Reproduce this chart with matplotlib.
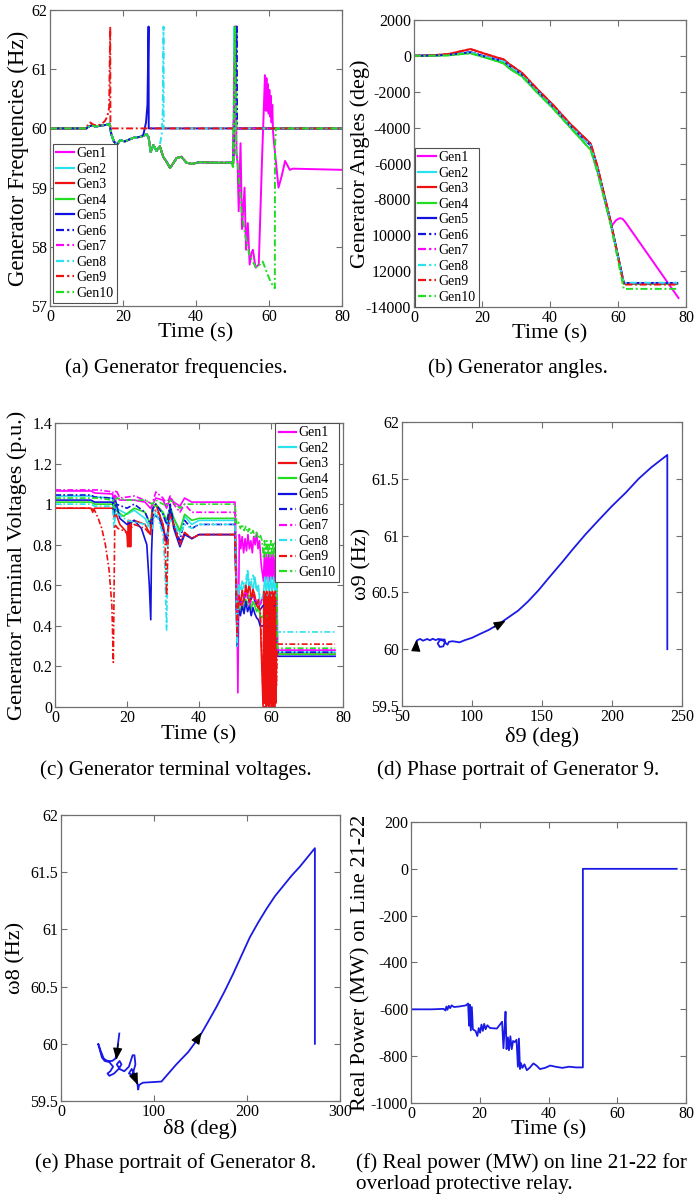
import matplotlib
matplotlib.use('Agg')
import matplotlib.pyplot as plt

plt.rcParams['font.family'] = ['Liberation Serif', 'DejaVu Serif']
plt.rcParams['axes.unicode_minus'] = False
plt.rcParams['lines.dashdot_pattern'] = [3.6, 1.4, 1.0, 1.4]

W, H = 694, 1201
fig = plt.figure(figsize=(W / 100, H / 100), dpi=100)

# ---------------- common generator styling ----------------
gen_names = ['Gen1', 'Gen2', 'Gen3', 'Gen4', 'Gen5', 'Gen6', 'Gen7', 'Gen8', 'Gen9', 'Gen10']
gen_colors = ['#ff00ff', '#2ae2ee', '#ee1111', '#22dd22', '#1212e0',
              '#1212e0', '#ff00ff', '#2ae2ee', '#ee1111', '#22dd22']
gen_styles = ['-', '-', '-', '-', '-', '-.', '-.', '-.', '-.', '-.']

# ---------------- (a) generator frequencies ----------------
freq_pre_t = [0, 10, 10.5, 11.5, 12.5, 14, 15.5, 16.3, 16.8, 17.5,
              18.3, 19.2, 20.5, 22.8, 25, 26.5, 27, 27.6, 28.3, 29.2,
              30.1, 31, 31.9, 32.9, 34.7, 36, 37.4, 39, 41, 45, 49.8]
freq_pre_f = [60, 60, 60.03, 60.05, 60.03, 60.05, 60.06, 60.08, 59.9, 59.78,
              59.72, 59.8, 59.78, 59.84, 59.86, 59.9, 59.85, 59.6, 59.72, 59.62,
              59.7, 59.52, 59.44, 59.33, 59.5, 59.52, 59.42, 59.4, 59.43, 59.42, 59.42]
freq_cut = [49.8, 49.8, 49.8, 49.8, 25, 49.8, 49.8, 29.2, -1, 49.8]
freq_tail_t = [
    [50.2, 50.8, 51.1, 51.4, 51.7, 52.2, 52.6, 53.3, 53.7, 54.2, 54.7, 55.2, 55.6, 56.3,
     57.2, 58.1, 58.9, 59.1, 59.3, 59.5, 59.7, 59.9, 60.1, 60.3, 60.5, 60.7, 60.9, 61.1,
     61.3, 62.6, 63.5, 64.4, 65.7, 66.5, 80],
    [50.2, 50.5, 50.55, 80],
    [50.2, 50.8, 50.85, 80],
    [50.1, 51.0, 51.05, 80],
    [25.6, 26.3, 26.7, 27.0, 27.05, 80],
    [50.2, 51.2, 51.25, 80],
    [50.2, 50.7, 50.75, 80],
    [30.1, 30.6, 30.9, 31.1, 31.15, 80],
    [0, 10, 10.5, 11, 12, 13, 14, 15, 15.7, 16.2, 16.5, 16.55, 80],
    [50.2, 50.7, 51.0, 51.6, 52.5, 53.5, 54.5, 55.5, 56.5, 57.5, 58.3, 59.5, 60.5, 61.6,
     61.65, 61.9, 80],
]
freq_tail_f = [
    [59.4, 61.72, 59.6, 59.4, 58.6, 59.75, 58.3, 59.0, 57.95, 58.4, 57.7, 57.9, 57.95, 57.65,
     57.7, 59.5, 60.9, 60.3, 60.85, 60.3, 60.75, 60.25, 60.65, 60.2, 60.55, 60.1, 60.4, 59.95,
     59.8, 59.0, 59.2, 59.45, 59.3, 59.32, 59.3],
    [59.45, 61.72, 60.0, 60.0],
    [59.4, 61.72, 60.0, 60.0],
    [59.35, 61.72, 60.0, 60.0],
    [59.9, 60.1, 60.4, 61.72, 60.0, 60.0],
    [59.42, 61.72, 60.0, 60.0],
    [59.45, 61.72, 60.0, 60.0],
    [59.72, 59.9, 60.3, 61.72, 60.0, 60.0],
    [60, 60, 60.08, 60.1, 60.06, 60.05, 60.07, 60.12, 60.2, 60.35, 61.72, 60.0, 60.0],
    [59.35, 61.72, 59.6, 59.3, 58.6, 58.2, 57.9, 57.75, 57.65, 57.7, 57.75, 57.55, 57.4, 57.3,
     59.7, 60.0, 60.0],
]

# ---------------- (b) generator angles ----------------
ang_pre_t = [0, 5, 10, 16.6, 22, 26.4, 28, 31.8, 36, 41, 46, 52, 54, 57.8]
ang_mid = [0, 20, 60, 200, -100, -300, -550, -1050, -1900, -2850, -3900, -5000, -6300, -9250]
ang_red = [0, 30, 100, 380, 50, -200, -450, -950, -1800, -2750, -3800, -4900, -6200, -9200]
ang_green = [0, 10, 30, 150, -150, -420, -700, -1150, -2000, -2950, -4000, -5250, -6500, -9350]
ang_base = ['mid', 'mid', 'red', 'green', 'mid', 'mid', 'mid', 'mid', 'red', 'green']
ang_tail_t = [[58.3, 59.5, 60.5, 61.3, 62.1, 77.8]] + [[61.7, 77.4]] * 9
ang_tail_v = [[-9430, -9150, -9050, -9080, -9250, -13500],
              [-12660, -12660], [-12700, -12700], [-12720, -12720], [-12660, -12660],
              [-12680, -12680], [-12670, -12670], [-12650, -12650], [-12750, -12750],
              [-12990, -12990]]
ang_ticks = [-14000, -12000, -10000, -8000, -6000, -4000, -2000, 0, 2000]
ang_tick_labels = ['-14000', '12000', '10000', '-8000', '-6000', '-4000', '-2000', '0', '2000']

# ---------------- (c) generator terminal voltages ----------------
volt_t = [
    [0, 10, 11, 16, 16.4, 16.8, 18, 20, 22, 25, 26.5, 27.2, 28, 30, 31, 32, 33, 34.7, 36, 38,
     40, 50, 50.5, 50.8, 51.2, 51.6, 52, 52.4, 52.8, 53.2, 53.6, 54, 54.4, 54.8, 55.2, 55.6,
     56, 56.4, 56.8, 57.3, 57.9, 58.2, 58.5, 58.8, 59.1, 59.4, 59.7, 60, 60.3, 60.6, 60.9,
     61.2, 61.5, 61.7, 61.75, 77.8],
    [0, 10, 11, 16, 16.5, 17, 20, 22, 25, 26.5, 27.2, 28, 30, 31, 32, 33, 34.7, 36, 38, 40,
     50, 50.6, 51, 51.5, 52, 52.5, 53, 53.5, 54, 54.5, 55, 55.5, 56, 56.5, 57, 57.9, 58.3,
     58.7, 59.1, 59.5, 59.9, 60.3, 60.7, 61.1, 61.5, 61.7, 61.75, 77.8],
    [0, 10, 10.5, 11, 16, 16.5, 17, 18, 19.5, 20, 20.2, 20.4, 20.6, 20.8, 21, 21.2, 22, 25,
     26.5, 27, 28, 29, 30, 31, 32, 33, 34.7, 36, 38, 40, 50, 50.6, 51, 51.5, 52, 52.5, 53,
     53.5, 54, 54.5, 55, 55.5, 56, 56.5, 57, 57.8, 58.0, 58.2, 58.4, 58.6, 58.8, 59.0, 59.2,
     59.4, 59.6, 59.8, 60.0, 60.2, 60.4, 60.6, 60.8, 61.0, 61.2, 61.4, 61.6, 61.75, 77.8],
    [0, 10, 11, 16, 16.5, 17, 19, 22, 25, 26.5, 27.2, 28, 30, 31, 32, 33, 34.7, 36, 38, 40,
     50, 50.6, 51, 51.5, 52, 52.5, 53, 53.5, 54, 54.5, 55, 55.5, 56, 56.5, 57, 57.5, 57.8,
     61.7, 61.75, 77.8],
    [0, 10, 11, 16, 16.4, 16.8, 18, 20, 22, 24, 25.5, 26.2, 26.6, 26.8, 27.2, 29, 31, 32, 33,
     34.7, 36, 38, 40, 50, 50.6, 51, 51.5, 52, 52.5, 53, 53.5, 54, 54.5, 55, 55.5, 56, 56.5,
     57, 57.8, 61.7, 61.75, 77.8],
    [0, 10, 11, 16, 16.5, 17, 20, 22, 25, 26.5, 27.2, 28, 30, 31, 32, 33, 34.7, 36, 38, 40,
     50, 50.6, 51, 52, 53, 54, 55, 56, 57, 57.8, 61.7, 61.75, 77.8],
    [0, 12, 16, 16.5, 17, 18, 22, 25, 27, 28, 30, 31, 32, 33, 34.7, 36, 38, 40, 50, 50.6,
     51, 52, 53, 54, 55, 56, 57, 57.8, 61.7, 61.75, 77.8],
    [0, 10, 11, 16, 16.4, 16.8, 20, 25, 27, 28, 30, 30.5, 31, 31.4, 32, 33, 34.7, 36, 38, 40,
     50, 50.6, 51, 52, 53, 53.5, 54, 55, 56, 57, 57.8, 61.7, 61.75, 77.8],
    [0, 10, 11, 12, 13, 14, 15, 15.8, 16.2, 16.6, 17.5, 19, 20, 22, 25, 26.5, 27, 28, 29, 30,
     30.6, 31, 31.5, 32, 33, 34.7, 36, 38, 40, 50, 50.6, 51, 52, 53, 54, 55, 56, 57, 57.9,
     58.1, 58.3, 58.5, 58.7, 58.9, 59.1, 59.3, 59.5, 59.7, 59.9, 60.1, 60.3, 60.5, 60.7,
     60.9, 61.1, 61.3, 61.5, 61.75, 77.8],
    [0, 12, 16, 16.5, 17, 20, 25, 27, 28, 30, 31, 32, 34.7, 36, 40, 50, 50.5, 51, 51.5, 52,
     52.5, 53, 53.5, 54, 54.5, 55, 55.5, 56, 56.5, 57, 57.5, 57.9, 58.2, 58.5, 58.8, 59.1,
     59.4, 59.7, 60.0, 60.3, 60.6, 60.9, 61.2, 61.5, 61.7, 61.75, 77.8],
]
volt_v = [
    [1.065, 1.065, 1.055, 1.05, 1.0, 1.04, 1.02, 1.02, 1.02, 1.01, 0.98, 1.0, 1.03, 1.02,
     0.98, 1.03, 1.01, 0.99, 1.03, 1.01, 1.01, 1.01, 0.6, 0.07, 0.85, 0.78, 0.84, 0.76, 0.83,
     0.77, 0.85, 0.78, 0.82, 0.76, 0.84, 0.8, 0.86, 0.78, 0.82, 0.7, 0.62, 0.76, 0.62, 0.75,
     0.63, 0.76, 0.62, 0.75, 0.63, 0.76, 0.62, 0.74, 0.63, 0.7, 0.28, 0.28],
    [1.04, 1.04, 1.035, 1.03, 0.95, 0.98, 0.95, 0.97, 0.93, 0.88, 0.97, 1.0, 0.95, 0.9,
     0.98, 0.93, 0.86, 0.94, 0.9, 0.92, 0.92, 0.3, 0.6, 0.58, 0.62, 0.6, 0.58, 0.66, 0.6,
     0.62, 0.57, 0.64, 0.58, 0.6, 0.5, 0.56, 0.64, 0.56, 0.64, 0.56, 0.64, 0.56, 0.64, 0.56,
     0.64, 0.58, 0.27, 0.27],
    [0.98, 0.98, 0.96, 0.98, 0.98, 0.93, 0.95, 0.9, 0.87, 0.85, 0.79, 0.92, 0.79, 0.92,
     0.79, 0.91, 0.92, 0.9, 0.85, 0.98, 1.0, 0.95, 0.9, 0.8, 0.97, 0.9, 0.8, 0.86, 0.83,
     0.85, 0.85, 0.35, 0.55, 0.5, 0.58, 0.52, 0.6, 0.55, 0.61, 0.53, 0.58, 0.55, 0.5, 0.53,
     0.45, 0.0, 0.57, 0.02, 0.56, 0.0, 0.57, 0.01, 0.55, 0.0, 0.57, 0.02, 0.56, 0.0, 0.57,
     0.01, 0.56, 0.0, 0.57, 0.02, 0.55, 0.26, 0.26],
    [1.01, 1.01, 1.0, 1.0, 0.96, 0.97, 0.94, 0.98, 0.96, 0.9, 0.98, 1.0, 0.96, 0.92, 0.99,
     0.93, 0.87, 0.95, 0.92, 0.93, 0.93, 0.4, 0.5, 0.47, 0.52, 0.48, 0.53, 0.5, 0.55, 0.48,
     0.52, 0.5, 0.47, 0.49, 0.45, 0.44, 0.45, 0.45, 0.26, 0.26],
    [1.02, 1.02, 1.01, 1.01, 0.95, 1.02, 0.93, 0.9, 0.92, 0.88, 0.8, 0.6, 0.43, 0.75, 0.95,
     0.93, 0.82, 0.98, 0.88, 0.79, 0.85, 0.83, 0.85, 0.85, 0.3, 0.48, 0.45, 0.5, 0.46, 0.52,
     0.47, 0.5, 0.45, 0.49, 0.46, 0.44, 0.43, 0.4, 0.4, 0.4, 0.25, 0.25],
    [1.045, 1.045, 1.035, 1.03, 0.97, 1.0, 0.98, 1.0, 0.96, 0.9, 0.98, 1.0, 0.95, 0.9, 1.0,
     0.9, 0.82, 0.92, 0.88, 0.9, 0.9, 0.3, 0.55, 0.5, 0.56, 0.52, 0.55, 0.5, 0.48, 0.5, 0.5,
     0.27, 0.27],
    [1.07, 1.07, 1.06, 1.03, 1.07, 1.03, 1.04, 1.02, 1.0, 1.06, 1.03, 1.0, 1.04, 1.0, 0.96,
     1.0, 0.96, 0.96, 0.96, 0.35, 0.55, 0.5, 0.58, 0.5, 0.55, 0.52, 0.5, 0.55, 0.55, 0.28,
     0.28],
    [1.0, 1.0, 0.99, 0.99, 0.88, 0.96, 0.92, 0.9, 0.88, 0.97, 0.85, 0.7, 0.38, 0.88, 0.92,
     0.9, 0.85, 0.9, 0.88, 0.9, 0.9, 0.3, 0.6, 0.58, 0.62, 0.68, 0.6, 0.65, 0.58, 0.55,
     0.55, 0.55, 0.37, 0.37],
    [0.98, 0.98, 0.97, 0.93, 0.88, 0.8, 0.68, 0.5, 0.22, 0.9, 0.88, 0.87, 0.86, 0.9, 0.88,
     0.85, 0.96, 0.97, 0.95, 0.9, 0.8, 0.55, 0.88, 0.95, 0.9, 0.8, 0.86, 0.83, 0.85, 0.85,
     0.35, 0.55, 0.5, 0.58, 0.52, 0.56, 0.5, 0.48, 0.02, 0.55, 0.0, 0.56, 0.03, 0.54, 0.0,
     0.55, 0.02, 0.56, 0.0, 0.54, 0.03, 0.55, 0.0, 0.56, 0.02, 0.54, 0.1, 0.31, 0.31],
    [1.03, 1.03, 1.02, 0.98, 1.03, 1.02, 1.02, 1.0, 1.02, 1.0, 0.99, 1.02, 0.98, 1.0, 1.0,
     1.0, 0.9, 0.91, 0.88, 0.9, 0.87, 0.89, 0.86, 0.88, 0.85, 0.87, 0.84, 0.86, 0.83, 0.85,
     0.82, 0.74, 0.82, 0.74, 0.82, 0.75, 0.81, 0.74, 0.82, 0.75, 0.81, 0.74, 0.82, 0.75,
     0.8, 0.29, 0.29],
]

# ---------------- (d) phase portrait of generator 9 ----------------
delta9 = [59, 60, 61, 63, 65, 68, 70, 72, 74, 76, 79, 80.5, 80.5, 79.5, 77, 75.5, 77, 80,
          81.5, 82.5, 83.5, 86, 89, 91, 95, 100, 105, 112, 119, 126, 133, 140, 147.6, 155,
          164, 172, 181, 190, 200, 210, 219, 228, 239.5, 239.5]
omega9 = [60.0, 60.05, 60.08, 60.09, 60.075, 60.09, 60.078, 60.092, 60.08, 60.09, 60.085,
          60.085, 60.06, 60.025, 60.02, 60.05, 60.08, 60.075, 60.05, 60.04, 60.065, 60.07,
          60.065, 60.06, 60.08, 60.1, 60.13, 60.17, 60.22, 60.28, 60.34, 60.42, 60.52, 60.63,
          60.76, 60.88, 61.01, 61.13, 61.26, 61.38, 61.5, 61.6, 61.71, 60.0]
arrows9_tail = [(59.9, 59.99), (116, 60.195)]
arrows9_head = [(60.4, 60.085), (124, 60.25)]

# ---------------- (e) phase portrait of generator 8 ----------------
delta8 = [62.7, 60.5, 58.5, 55, 50, 46, 43, 40, 41, 44, 47, 52, 56, 53, 50, 52, 57, 62, 65,
          63, 60, 63, 68, 73, 77, 79, 80, 77, 73, 76, 80, 82, 83, 84, 88, 98, 108, 124, 137,
          149.5, 158, 167, 176, 185, 194, 203, 212, 221, 230, 239, 248, 257, 265, 273, 273]
omega8 = [60.09, 59.95, 59.87, 59.85, 59.85, 59.87, 59.93, 60.0, 59.97, 59.88, 59.85, 59.84,
          59.8, 59.76, 59.74, 59.72, 59.74, 59.78, 59.82, 59.85, 59.82, 59.78, 59.76, 59.8,
          59.9, 59.9, 59.82, 59.73, 59.74, 59.78, 59.72, 59.66, 59.6, 59.64, 59.66, 59.665,
          59.67, 59.82, 59.93, 60.07, 60.19, 60.32, 60.46, 60.61, 60.77, 60.93, 61.06, 61.18,
          61.29, 61.38, 61.47, 61.55, 61.63, 61.71, 60.0]
arrows8_tail = [(61.5, 60.0), (77.5, 59.74), (145, 60.02)]
arrows8_head = [(59.5, 59.86), (82.5, 59.64), (151, 60.1)]

# ---------------- (f) real power on line 21-22 ----------------
power_t = [0, 6, 9.5, 10, 10.3, 10.6, 11, 11.4, 11.8, 12.5, 14, 16, 16.6, 16.9, 17.1, 17.4,
           17.7, 18, 18.8, 19.3, 19.7, 20.1, 20.5, 20.9, 21.3, 21.7, 22.2, 23, 25, 26.5,
           26.9, 27.2, 27.5, 27.8, 28.2, 28.5, 28.9, 29.3, 29.7, 30.2, 30.7, 31.1, 31.4, 31.7,
           32, 32.4, 33, 33.7, 34.5, 35.6, 36.5, 37.5, 39, 40.5, 42, 44, 46, 48, 50, 50, 77.3]
power_mw = [-600, -600, -598, -605, -588, -602, -585, -595, -583, -590, -588, -583, -575,
            -670, -580, -690, -590, -685, -693, -714, -680, -700, -665, -692, -662, -685,
            -668, -680, -682, -653, -766, -690, -610, -770, -720, -775, -715, -770, -735,
            -740, -730, -845, -725, -855, -830, -850, -835, -860, -850, -831, -840, -855,
            -850, -840, -845, -850, -845, -848, -848, 0, 0]

# ---------------- layout helpers ----------------
TICK_FS = 11.5
LABEL_FS = 16
CAP_FS = 15.3
SPINE = '#707070'


def add_ax(l, t, r, b):
    ax = fig.add_axes([l / W, 1 - b / H, (r - l) / W, (b - t) / H])
    for s in ax.spines.values():
        s.set_color(SPINE)
        s.set_linewidth(0.9)
    ax.tick_params(direction='in', length=4, width=0.8, color=SPINE, top=True, right=True,
                   labelsize=TICK_FS, pad=2, labelcolor='black')
    ax.box_px = (l, t, r, b)
    return ax


def set_labels(ax, xlab, ylab, x_y_px, y_x_px, yfs=LABEL_FS, xfs=LABEL_FS):
    l, t, r, b = ax.box_px
    ax.set_xlabel(xlab, fontsize=xfs)
    ax.xaxis.label.set_va('center')
    ax.xaxis.set_label_coords(0.5, -(x_y_px - b) / (b - t))
    ax.set_ylabel(ylab, fontsize=yfs)
    ax.yaxis.label.set_va('center')
    ax.yaxis.set_label_coords(-(l - y_x_px) / (r - l), 0.5)


def gen_legend(ax, loc, anchor):
    leg = ax.legend(loc=loc, bbox_to_anchor=anchor, fontsize=10, labelspacing=0.18,
                    handlelength=1.25, handletextpad=0.15, borderpad=0.25, borderaxespad=0,
                    fancybox=False, framealpha=1, edgecolor='#505050')
    leg.get_frame().set_linewidth(0.8)
    for lh in leg.get_lines():
        lh.set_linewidth(1.6)
    return leg


def draw_arrows(ax, tails, heads):
    for (xt, yt), (xh, yh) in zip(tails, heads):
        ax.annotate('', xy=(xh, yh), xytext=(xt, yt),
                    arrowprops=dict(arrowstyle='-|>,head_length=0.55,head_width=0.22',
                                    color='black', lw=0.8, shrinkA=0, shrinkB=0,
                                    mutation_scale=13))


# ---------------- panel (a) ----------------
ax_a = add_ax(50, 10, 342, 306)
for i in range(10):
    ts = [t for t in freq_pre_t if t <= freq_cut[i]] + freq_tail_t[i]
    fs = [f for t, f in zip(freq_pre_t, freq_pre_f) if t <= freq_cut[i]] + freq_tail_f[i]
    ax_a.plot(ts, fs, color=gen_colors[i], ls=gen_styles[i], lw=1.4, label=gen_names[i])
ax_a.set_xlim(0, 80)
ax_a.set_ylim(57, 62)
ax_a.set_xticks([0, 20, 40, 60, 80])
ax_a.set_yticks([57, 58, 59, 60, 61, 62])
set_labels(ax_a, 'Time (s)', 'Generator Frequencies (Hz)', 333, 18, yfs=16.5)
gen_legend(ax_a, 'lower left', (3 / 292, 3 / 296))

# ---------------- panel (b) ----------------
ax_b = add_ax(414, 20, 686, 307)
bases = {'mid': ang_mid, 'red': ang_red, 'green': ang_green}
for i in range(10):
    ax_b.plot(ang_pre_t + ang_tail_t[i], bases[ang_base[i]] + ang_tail_v[i],
              color=gen_colors[i], ls=gen_styles[i], lw=1.4, label=gen_names[i])
ax_b.set_xlim(0, 80)
ax_b.set_ylim(-14000, 2000)
ax_b.set_xticks([0, 20, 40, 60, 80])
ax_b.set_yticks(ang_ticks)
ax_b.set_yticklabels(ang_tick_labels)
set_labels(ax_b, 'Time (s)', 'Generator Angles (deg)', 334, 360)
gen_legend(ax_b, 'lower left', (1 / 272, 0.0))

# ---------------- panel (c) ----------------
ax_c = add_ax(55, 423, 343, 707)
for i in range(10):
    ax_c.plot(volt_t[i], volt_v[i], color=gen_colors[i], ls=gen_styles[i], lw=1.2,
              label=gen_names[i])
ax_c.set_xlim(0, 80)
ax_c.set_ylim(0, 1.4)
ax_c.set_xticks([0, 20, 40, 60, 80])
ax_c.set_yticks([0, 0.2, 0.4, 0.6, 0.8, 1.0, 1.2, 1.4])
ax_c.set_yticklabels(['0', '0.2', '0.4', '0.6', '0.8', '1', '1.2', '1.4'])
set_labels(ax_c, 'Time (s)', 'Generator Terminal Voltages (p.u.)', 735, 17)
gen_legend(ax_c, 'upper right', ((339 - 55) / 288, 1.0))

# ---------------- panel (d) ----------------
ax_d = add_ax(402, 422, 682, 706)
ax_d.plot(delta9, omega9, color='#1a1ae6', lw=1.3)
draw_arrows(ax_d, arrows9_tail, arrows9_head)
ax_d.set_xlim(50, 250)
ax_d.set_ylim(59.5, 62)
ax_d.set_xticks([50, 100, 150, 200, 250])
ax_d.set_yticks([59.5, 60, 60.5, 61, 61.5, 62])
ax_d.set_yticklabels(['59.5', '60', '60.5', '61', '61.5', '62'])
set_labels(ax_d, 'δ9 (deg)', 'ω9 (Hz)', 737, 362)

# ---------------- panel (e) ----------------
ax_e = add_ax(61, 815, 340, 1101)
ax_e.plot(delta8, omega8, color='#1a1ae6', lw=1.3)
draw_arrows(ax_e, arrows8_tail, arrows8_head)
ax_e.set_xlim(0, 300)
ax_e.set_ylim(59.5, 62)
ax_e.set_xticks([0, 100, 200, 300])
ax_e.set_yticks([59.5, 60, 60.5, 61, 61.5, 62])
ax_e.set_yticklabels(['59.5', '60', '60.5', '61', '61.5', '62'])
set_labels(ax_e, 'δ8 (deg)', 'ω8 (Hz)', 1129, 16)

# ---------------- panel (f) ----------------
ax_f = add_ax(411, 822, 686, 1103)
ax_f.plot(power_t, power_mw, color='#1a1ae6', lw=1.3)
ax_f.set_xlim(0, 80)
ax_f.set_ylim(-1000, 200)
ax_f.set_xticks([0, 20, 40, 60, 80])
ax_f.set_yticks([-1000, -800, -600, -400, -200, 0, 200])
set_labels(ax_f, 'Time (s)', 'Real Power (MW) on Line 21-22', 1130, 361)

# ---------------- captions ----------------
captions = [("(a) Generator frequencies.", 176, 368),
            ("(b) Generator angles.", 518, 368),
            ("(c) Generator terminal voltages.", 176, 770),
            ("(d) Phase portrait of Generator 9.", 518, 770),
            ("(e) Phase portrait of Generator 8.", 176, 1163)]
for txt, x, y in captions:
    fig.text(x / W, 1 - y / H, txt, ha='center', va='center', fontsize=CAP_FS)
fig.text(356 / W, 1 - 1163 / H, "(f) Real power (MW) on line 21-22 for", ha='left',
         va='center', fontsize=CAP_FS)
fig.text(356 / W, 1 - 1185 / H, "overload protective relay.", ha='left', va='center',
         fontsize=CAP_FS)

fig.savefig('out.png', dpi=100)
